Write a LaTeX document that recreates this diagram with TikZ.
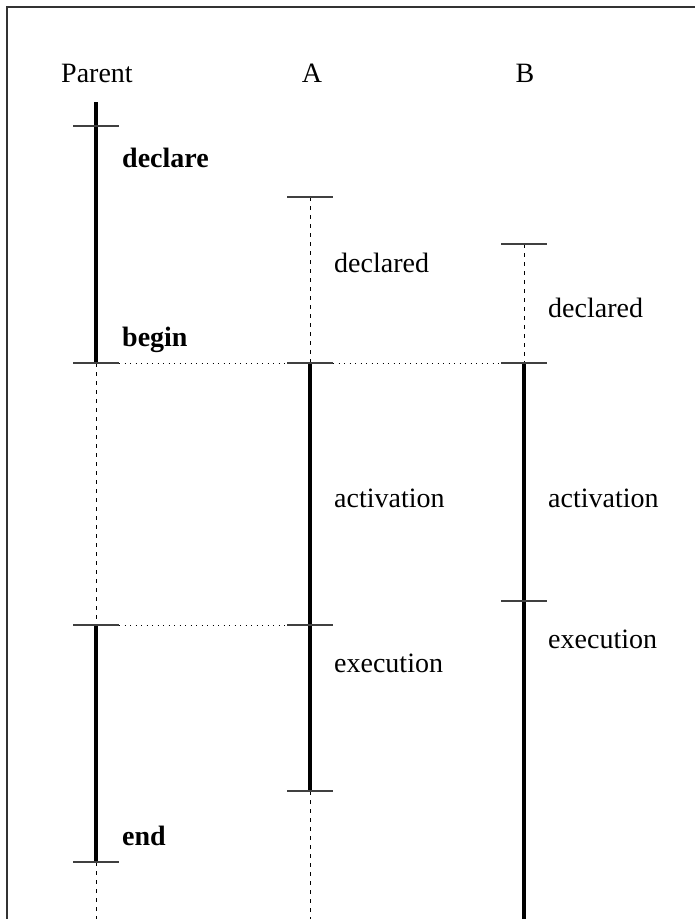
\documentclass[tikz,border=0pt]{standalone}
\usepackage{fontspec}
\setmainfont{Liberation Serif}
\begin{document}
\begin{tikzpicture}[x=1pt,y=-1pt,
  lbl/.style={anchor=west,inner sep=0pt,font=\fontsize{28}{33}\selectfont},
  head/.style={inner sep=0pt,font=\fontsize{28}{33}\selectfont},
  blbl/.style={lbl,font=\fontsize{28}{33}\selectfont\bfseries},
  active/.style={line width=3.4pt},
  idle/.style={line width=1pt,dash pattern=on 4pt off 5pt},
  sync/.style={line width=1pt,dash pattern=on 1pt off 4.5pt},
  tick/.style={line width=1.2pt,black!75}]
\useasboundingbox (0,0) rectangle (695,919);
\draw[line width=1.2pt,black!80] (7,919) -- (7,7) -- (695,7);
% headers
\node[head] (hp) at (97,73) {Parent};
\node[head] (ha) at (312,73) {A};
\node[head] (hb) at (525,73) {B};
% coordinates
\coordinate (p0) at (96,102);
\coordinate (p1) at (96,126);
\coordinate (p2) at (96,363);
\coordinate (p3) at (96,625);
\coordinate (p4) at (96,862);
\coordinate (p5) at (96,919);
\coordinate (a1) at (310,197);
\coordinate (a2) at (310,363);
\coordinate (a3) at (310,625);
\coordinate (a4) at (310,791);
\coordinate (a5) at (310,919);
\coordinate (b1) at (524,244);
\coordinate (b2) at (524,363);
\coordinate (b3) at (524,601);
\coordinate (b5) at (524,919);
% lifelines
\draw[active] (p0) -- (p2);
\draw[idle] (p2) -- (p3);
\draw[active] (p3) -- (p4);
\draw[idle] (p4) -- (p5);
\draw[idle] (a1) -- (a2);
\draw[active] (a2) -- (a4);
\draw[idle] (a4) -- (a5);
\draw[idle] (b1) -- (b2);
\draw[active] (b2) -- (b5);
% ticks
\foreach \c in {p1,p2,p3,p4,a1,a2,a3,a4,b1,b2,b3}
  \draw[tick] ([xshift=-23pt]\c) -- ([xshift=23pt]\c);
% sync lines
\draw[sync] ([xshift=23pt]p2) -- ([xshift=-23pt]a2);
\draw[sync] ([xshift=23pt]a2) -- ([xshift=-23pt]b2);
\draw[sync] ([xshift=23pt]p3) -- ([xshift=-23pt]a3);
% labels
\node[blbl] (ldeclare) at (122,158) {declare};
\node[blbl] (lbegin) at (122,340) {begin};
\node[blbl] (lend) at (122,836) {end};
\node[lbl] (adecl) at (334,263) {declared};
\node[lbl] (bdecl) at (548,308) {declared};
\node[lbl] (aact) at (334,498) {activation};
\node[lbl] (bact) at (548,498) {activation};
\node[lbl] (aexe) at (334,663) {execution};
\node[lbl] (bexe) at (548,639) {execution};
\end{tikzpicture}
\end{document}
